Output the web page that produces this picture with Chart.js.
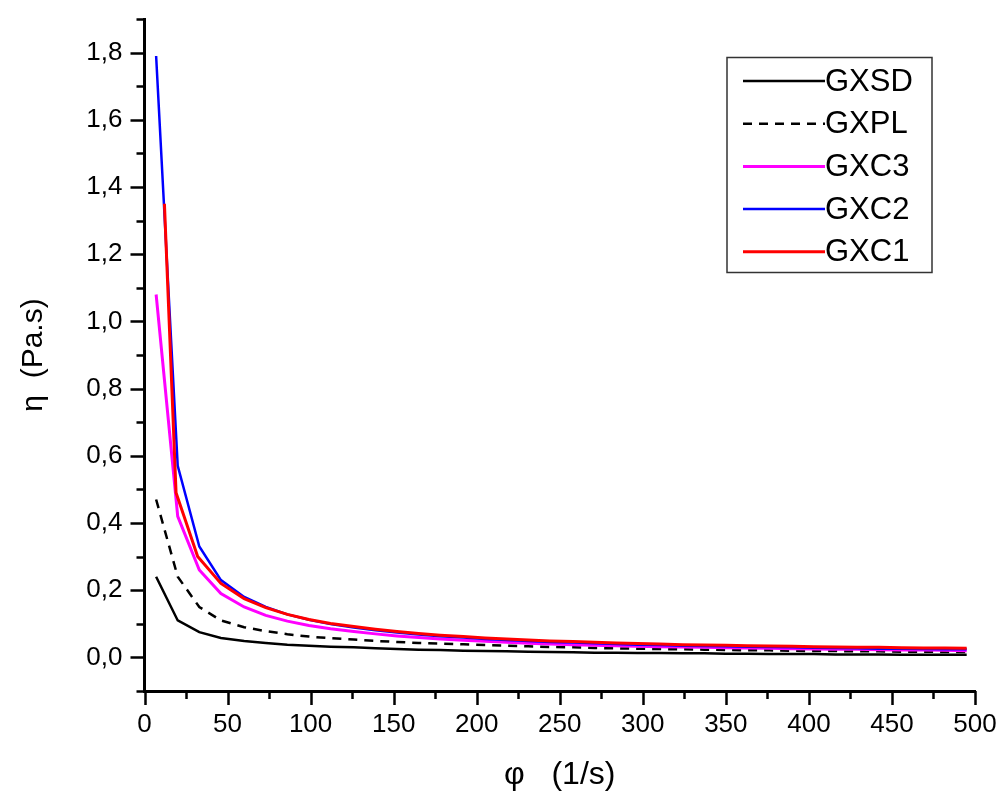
<!DOCTYPE html>
<html>
<head>
<meta charset="utf-8">
<script src="https://cdn.jsdelivr.net/npm/chart.js@4"></script>
<style>
  html, body { margin: 0; padding: 0; background: #fff; }
</style>
</head>
<body>
<canvas id="myChart" width="1006" height="798"></canvas>
<script>
// shear rate (1/s)
var shearRate = [7, 20, 33, 46, 60, 73, 86, 99, 112, 126, 139, 152, 165, 178, 192, 205, 218, 231, 244, 258,
                 271, 284, 297, 310, 324, 337, 350, 363, 376, 390, 403, 416, 429, 442, 456, 469, 482, 495];
var shearRateGXC1 = [12, 19, 32, 46, 60, 73, 86, 99, 112, 126, 139, 152, 165, 178, 192, 205, 218, 231, 244, 258,
                 271, 284, 297, 310, 324, 337, 350, 363, 376, 390, 403, 416, 429, 442, 456, 469, 482, 495];

// viscosity (Pa.s)
var gxsd = [0.24, 0.11, 0.075, 0.058, 0.049, 0.043, 0.038, 0.035, 0.032, 0.030,
            0.027, 0.025, 0.023, 0.022, 0.020, 0.019, 0.018, 0.017, 0.016, 0.015,
            0.014, 0.014, 0.013, 0.013, 0.012, 0.012, 0.011, 0.011, 0.010, 0.010,
            0.010, 0.009, 0.009, 0.009, 0.008, 0.008, 0.008, 0.008];
var gxpl = [0.47, 0.24, 0.15, 0.11, 0.09, 0.078, 0.069, 0.062, 0.057, 0.053,
            0.049, 0.046, 0.043, 0.041, 0.039, 0.037, 0.035, 0.033, 0.031, 0.030,
            0.028, 0.027, 0.026, 0.025, 0.024, 0.023, 0.022, 0.021, 0.021, 0.020,
            0.019, 0.019, 0.018, 0.018, 0.017, 0.017, 0.016, 0.016];
var gxc3 = [1.08, 0.42, 0.26, 0.19, 0.15, 0.125, 0.108, 0.095, 0.085, 0.077,
            0.070, 0.064, 0.059, 0.055, 0.051, 0.048, 0.045, 0.042, 0.040, 0.038,
            0.036, 0.035, 0.033, 0.032, 0.031, 0.030, 0.029, 0.028, 0.027, 0.026,
            0.025, 0.024, 0.024, 0.023, 0.022, 0.022, 0.021, 0.020];
var gxc2 = [1.79, 0.57, 0.33, 0.23, 0.18, 0.15, 0.128, 0.112, 0.099, 0.089,
            0.081, 0.074, 0.068, 0.063, 0.059, 0.055, 0.052, 0.049, 0.046, 0.044,
            0.042, 0.040, 0.038, 0.037, 0.035, 0.034, 0.033, 0.032, 0.031, 0.030,
            0.029, 0.028, 0.027, 0.026, 0.026, 0.025, 0.024, 0.024];
var gxc1 = [1.35, 0.49, 0.30, 0.22, 0.175, 0.148, 0.128, 0.113, 0.101, 0.092,
            0.084, 0.077, 0.071, 0.066, 0.062, 0.058, 0.055, 0.052, 0.049, 0.047,
            0.045, 0.043, 0.041, 0.040, 0.038, 0.037, 0.036, 0.035, 0.034, 0.033,
            0.032, 0.031, 0.030, 0.030, 0.029, 0.028, 0.028, 0.027];

var xTicks = [0, 25, 50, 75, 100, 125, 150, 175, 200, 225, 250, 275, 300, 325, 350, 375, 400, 425, 450, 475, 500];
var xTickLabels = ['0', '', '50', '', '100', '', '150', '', '200', '', '250', '', '300', '', '350', '', '400', '', '450', '', '500'];
var yTicks = [-0.1, 0, 0.1, 0.2, 0.3, 0.4, 0.5, 0.6, 0.7, 0.8, 0.9, 1.0, 1.1, 1.2, 1.3, 1.4, 1.5, 1.6, 1.7, 1.8, 1.9];
var yTickLabels = ['', '0,0', '', '0,2', '', '0,4', '', '0,6', '', '0,8', '', '1,0', '', '1,2', '', '1,4', '', '1,6', '', '1,8', ''];

var fontFamily = '"Liberation Sans", Arial, sans-serif';

function pts(xs, ys) {
    return ys.map(function (y, i) { return { x: xs[i], y: y }; });
}

// tick marks: long for labelled ticks, short for the others
var tickMarks = {
    id: 'tickMarks',
    afterDraw: function (chart) {
        var ctx = chart.ctx;
        var xs = chart.scales.x, ys = chart.scales.y;
        ctx.save();
        ctx.strokeStyle = '#000';
        ctx.lineWidth = 2.5;
        ctx.beginPath();
        xs.ticks.forEach(function (t, i) {
            var px = Math.round(xs.getPixelForValue(t.value)) + 0.5;
            var len = xTickLabels[i] ? 14 : 8;
            ctx.moveTo(px, xs.top);
            ctx.lineTo(px, xs.top + len);
        });
        ys.ticks.forEach(function (t, i) {
            var py = Math.round(ys.getPixelForValue(t.value)) + 0.5;
            var len = yTickLabels[i] ? 14 : 8;
            ctx.moveTo(ys.right, py);
            ctx.lineTo(ys.right - len, py);
        });
        ctx.stroke();
        ctx.restore();
    }
};

// boxed legend inside the plot
var boxLegend = {
    id: 'boxLegend',
    afterDraw: function (chart) {
        var ctx = chart.ctx;
        ctx.save();
        ctx.strokeStyle = '#333';
        ctx.lineWidth = 1.5;
        ctx.strokeRect(727, 57.5, 205, 215);
        chart.data.datasets.forEach(function (ds, i) {
            var y = 81 + i * 42.7;
            ctx.beginPath();
            ctx.strokeStyle = ds.borderColor;
            ctx.lineWidth = ds.borderWidth;
            ctx.setLineDash(ds.borderDash || []);
            ctx.moveTo(743, y);
            ctx.lineTo(825, y);
            ctx.stroke();
            ctx.setLineDash([]);
            ctx.fillStyle = '#000';
            ctx.font = '31px ' + fontFamily;
            ctx.textBaseline = 'middle';
            ctx.fillText(ds.label, 825, y + 1);
        });
        ctx.restore();
    }
};

function noEdgePadding(scale) {
    scale.paddingLeft = 0;
    scale.paddingRight = 0;
    scale.paddingTop = 0;
    scale.paddingBottom = 0;
}

var ctx = document.getElementById('myChart').getContext('2d');
var myChart = new Chart(ctx, {
    type: 'line',
    data: {
        datasets: [
            { label: 'GXSD', data: pts(shearRate, gxsd), borderColor: '#000000', borderWidth: 2.5, order: 4 },
            { label: 'GXPL', data: pts(shearRate, gxpl), borderColor: '#000000', borderWidth: 2.5, borderDash: [9, 7], order: 3 },
            { label: 'GXC3', data: pts(shearRate, gxc3), borderColor: '#ff00ff', borderWidth: 3, order: 2 },
            { label: 'GXC2', data: pts(shearRate, gxc2), borderColor: '#0000ff', borderWidth: 2.5, order: 1 },
            { label: 'GXC1', data: pts(shearRateGXC1, gxc1), borderColor: '#ff0000', borderWidth: 3, order: 0 }
        ]
    },
    options: {
        responsive: false,
        animation: false,
        devicePixelRatio: 1,
        layout: { padding: { top: 19, right: 31, bottom: 0, left: 0 } },
        elements: { point: { radius: 0 }, line: { tension: 0 } },
        plugins: { legend: { display: false }, tooltip: { enabled: false } },
        scales: {
            x: {
                type: 'linear',
                min: 0,
                max: 500,
                afterBuildTicks: function (scale) {
                    scale.ticks = xTicks.map(function (v) { return { value: v }; });
                },
                afterFit: function (scale) { scale.height = 107; noEdgePadding(scale); },
                grid: { drawOnChartArea: false, drawTicks: false },
                border: { color: '#000', width: 3 },
                ticks: {
                    autoSkip: false,
                    maxRotation: 0,
                    padding: 18,
                    color: '#000',
                    font: { family: fontFamily, size: 26 },
                    callback: function (value, index) { return xTickLabels[index]; }
                },
                title: {
                    display: true,
                    text: 'φ   (1/s)',
                    color: '#000',
                    font: { family: fontFamily, size: 32 },
                    padding: { top: 0, bottom: 4 }
                }
            },
            y: {
                type: 'linear',
                min: -0.1,
                max: 1.9,
                afterBuildTicks: function (scale) {
                    scale.ticks = yTicks.map(function (v) { return { value: v }; });
                },
                afterFit: function (scale) { scale.width = 144.5; noEdgePadding(scale); },
                grid: { drawOnChartArea: false, drawTicks: false },
                border: { color: '#000', width: 3 },
                ticks: {
                    autoSkip: false,
                    padding: 22,
                    color: '#000',
                    font: { family: fontFamily, size: 26 },
                    callback: function (value, index) { return yTickLabels[index]; }
                },
                title: {
                    display: true,
                    text: 'η  (Pa.s)',
                    color: '#000',
                    font: { family: fontFamily, size: 30 },
                    padding: { top: 16, bottom: 0 }
                }
            }
        }
    },
    plugins: [tickMarks, boxLegend]
});
</script>
</body>
</html>
